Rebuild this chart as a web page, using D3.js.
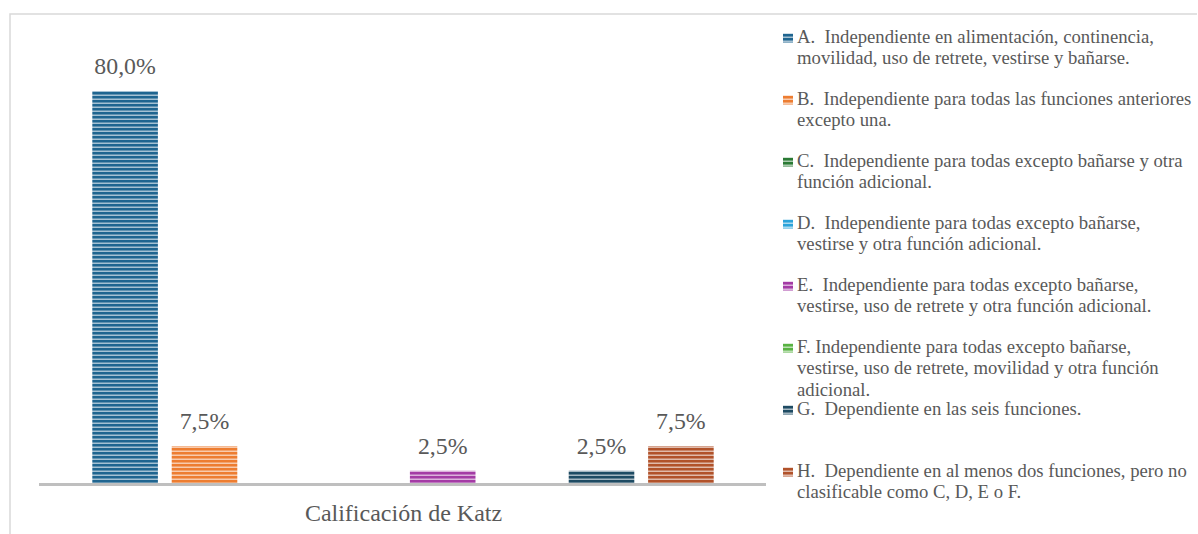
<!DOCTYPE html>
<html>
<head>
	<meta charset="UTF-8">
	<script src="https://cdn.jsdelivr.net/npm/d3@7/dist/d3.min.js"></script>
</head>
<body style="margin:0">
	<script>
		var width = 1198;
		var height = 534;

		// data
		var categories = ["A", "B", "C", "D", "E", "F", "G", "H"];
		var values = [80.0, 7.5, null, null, 2.5, null, 2.5, 7.5];
		var valueLabels = ["80,0%", "7,5%", "", "", "2,5%", "", "2,5%", "7,5%"];
		var colors = ["#1f6590", "#ed7d31", "#2a7a34", "#2aa3da", "#a43ba5", "#58b242", "#1e4b63", "#b1522a"];
		var legendLines = [
			["A.\u00a0 Independiente en alimentación, continencia,", "movilidad, uso de retrete, vestirse y bañarse."],
			["B.\u00a0 Independiente para todas las funciones anteriores", "excepto una."],
			["C.\u00a0 Independiente para todas excepto bañarse y otra", "función adicional."],
			["D.\u00a0 Independiente para todas excepto bañarse,", "vestirse y otra función adicional."],
			["E.\u00a0 Independiente para todas excepto bañarse,", "vestirse, uso de retrete y otra función adicional."],
			["F. Independiente para todas excepto bañarse,", "vestirse, uso de retrete, movilidad y otra función", "adicional."],
			["G.\u00a0 Dependiente en las seis funciones."],
			["H.\u00a0 Dependiente en al menos dos funciones, pero no", "clasificable como C, D, E o F."]
		];
		var axisTitle = "Calificación de Katz";

		var fontFamily = "'Liberation Serif', monospace";
		var textColor = "#595959";

		var svg = d3.select("body").append("svg")
			.attr("width", width)
			.attr("height", height)
			.attr("font-family", "Liberation Serif");

		// outer frame (only top and left edges are visible)
		svg.append("path")
			.attr("d", "M10,540 L10,14 L1197,14")
			.attr("fill", "none")
			.attr("stroke", "#d9d9d9")
			.attr("stroke-width", 1.5);

		// striped fills, one per series
		var defs = svg.append("defs");
		colors.forEach(function(c, i) {
			var light = d3.interpolateRgb(c, "#ffffff")(0.6);
			var mid = d3.interpolateRgb(c, "#ffffff")(0.3);
			var p = defs.append("pattern")
				.attr("id", "stripe" + i)
				.attr("patternUnits", "userSpaceOnUse")
				.attr("width", 8)
				.attr("height", 4);
			p.append("rect").attr("width", 8).attr("height", 4).attr("fill", c);
			p.append("rect").attr("y", 2).attr("width", 8).attr("height", 1).attr("fill", mid);
			p.append("rect").attr("y", 3).attr("width", 8).attr("height", 1).attr("fill", light);
		});

		var x = d3.scaleBand()
			.domain(categories)
			.range([85.4, 720.6])
			.paddingInner(0.174)
			.paddingOuter(0.087);

		var y = d3.scaleLinear()
			.domain([0, 80])
			.range([483, 91]);

		var bars = categories.map(function(c, i) {
			return { cat: c, value: values[i], label: valueLabels[i], i: i };
		}).filter(function(d) { return d.value != null; });

		svg.selectAll("rect.bar")
			.data(bars)
			.enter().append("rect")
			.attr("class", "bar")
			.attr("x", function(d) { return x(d.cat); })
			.attr("y", function(d) { return y(d.value); })
			.attr("width", x.bandwidth())
			.attr("height", function(d) { return y(0) - y(d.value); })
			.attr("fill", function(d) { return "url(#stripe" + d.i + ")"; });

		svg.selectAll("text.val")
			.data(bars)
			.enter().append("text")
			.attr("class", "val")
			.attr("x", function(d) { return x(d.cat) + x.bandwidth() / 2; })
			.attr("y", function(d) { return y(d.value) - 17; })
			.attr("text-anchor", "middle")
			.attr("font-size", 23.8)
			.attr("fill", textColor)
			.style("font-family", fontFamily)
			.text(function(d) { return d.label; });

		// category axis line
		svg.append("line")
			.attr("x1", 39).attr("x2", 766)
			.attr("y1", 484.5).attr("y2", 484.5)
			.attr("stroke", "#bfbfbf")
			.attr("stroke-width", 3);

		svg.append("text")
			.attr("x", 403.5)
			.attr("y", 521)
			.attr("text-anchor", "middle")
			.attr("font-size", 24)
			.attr("fill", textColor)
			.style("font-family", fontFamily)
			.text(axisTitle);

		// legend
		var legend = svg.append("g");
		var item = legend.selectAll("g")
			.data(legendLines)
			.enter().append("g")
			.attr("transform", function(d, i) { return "translate(783," + (38 + 62 * i) + ")"; });

		item.append("rect")
			.attr("x", 0).attr("y", -4.5)
			.attr("width", 10).attr("height", 9)
			.attr("fill", function(d, i) { return "url(#stripe" + i + ")"; });

		item.append("text")
			.attr("font-size", 18.7)
			.attr("fill", textColor)
			.style("font-family", fontFamily)
			.selectAll("tspan")
			.data(function(d) { return d; })
			.enter().append("tspan")
			.attr("x", 14)
			.attr("y", function(d, j) { return 4.8 + j * 21.5; })
			.text(function(d) { return d; });
	</script>
</body>
</html>
